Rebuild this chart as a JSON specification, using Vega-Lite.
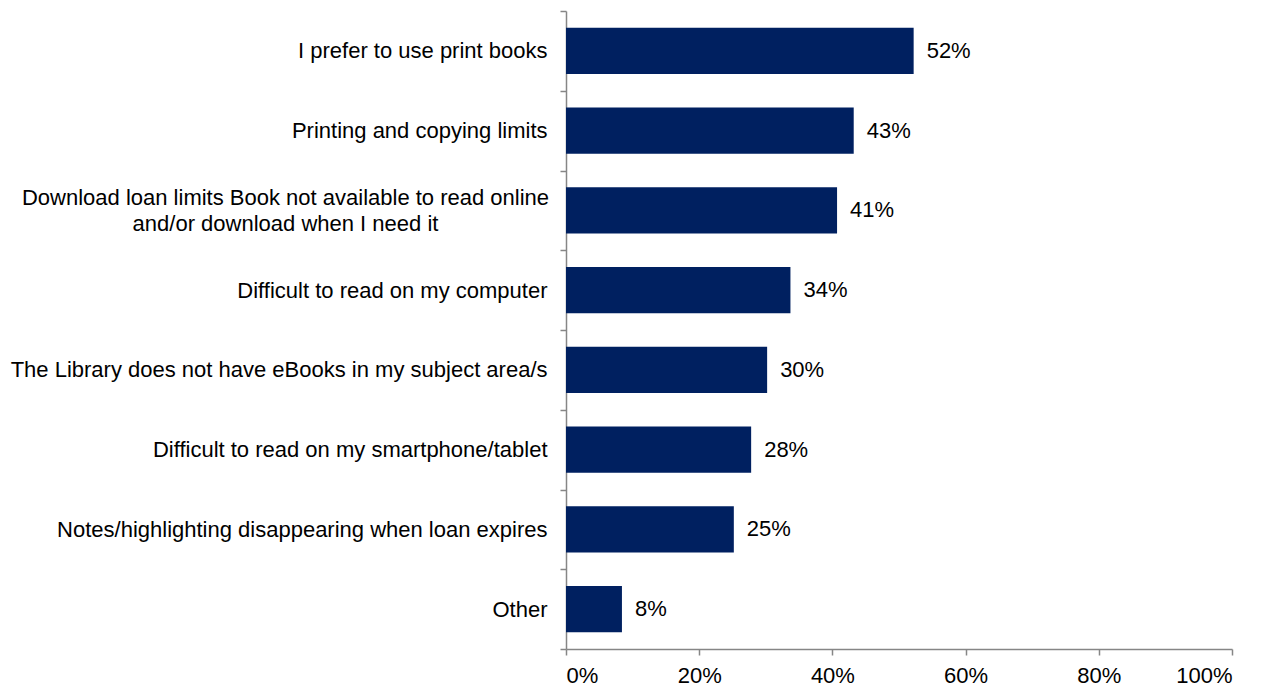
{
  "$schema": "https://vega.github.io/schema/vega-lite/v6.json",
  "width": 666,
  "height": 638,
  "padding": {"left": 566, "top": 11, "right": 42, "bottom": 42},
  "autosize": {"type": "none"},
  "background": "white",
  "config": {
    "view": {"stroke": null},
    "font": "Liberation Sans",
    "axis": {"grid": false}
  },
  "data": {
    "values": [
      {"reason": "I prefer to use print books", "share": 0.522},
      {"reason": "Printing and copying limits", "share": 0.432},
      {"reason": "Download loan limits Book not available to read online|and/or download when I need it", "share": 0.407},
      {"reason": "Difficult to read on my computer", "share": 0.337},
      {"reason": "The Library does not have eBooks in my subject area/s", "share": 0.302},
      {"reason": "Difficult to read on my smartphone/tablet", "share": 0.278},
      {"reason": "Notes/highlighting disappearing when loan expires", "share": 0.252},
      {"reason": "Other", "share": 0.084}
    ]
  },
  "encoding": {
    "y": {
      "field": "reason",
      "type": "nominal",
      "sort": null,
      "scale": {"paddingInner": 0, "paddingOuter": 0},
      "axis": {
        "title": null,
        "labelExpr": "datum.value == null ? '' : split(datum.value, '|')",
        "labelFontSize": 22,
        "labelColor": "#000000",
        "labelPadding": {"condition": {"test": "datum.value != null && indexof(datum.value, '|') >= 0", "value": 275}, "value": 13},
        "labelLimit": 600,
        "labelLineHeight": 26,
        "labelOffset": {"condition": {"test": "datum.value != null && indexof(datum.value, '|') >= 0", "value": -13}, "value": 0},
        "labelAlign": {"condition": {"test": "datum.value != null && indexof(datum.value, '|') >= 0", "value": "center"}, "value": "right"},
        "tickBand": "extent",
        "tickSize": 6,
        "tickColor": "#868686",
        "domainColor": "#868686",
        "domainWidth": 1.5,
        "tickWidth": 1.5
      }
    },
    "x": {
      "field": "share",
      "type": "quantitative",
      "scale": {"domain": [0, 1], "nice": false},
      "axis": {
        "title": null,
        "format": ".0%",
        "values": [0, 0.2, 0.4, 0.6, 0.8, 1],
        "labelFontSize": 22,
        "labelColor": "#000000",
        "labelPadding": 10,
        "tickSize": 6,
        "tickColor": "#868686",
        "domainColor": "#868686",
        "domainWidth": 1.5,
        "tickWidth": 1.5
      }
    }
  },
  "layer": [
    {"mark": {"type": "bar", "color": "#002060", "height": {"band": 0.58}}},
    {
      "mark": {"type": "text", "align": "left", "dx": 13, "fontSize": 22, "color": "#000000"},
      "encoding": {"text": {"field": "share", "type": "quantitative", "format": ".0%"}}
    }
  ]
}
